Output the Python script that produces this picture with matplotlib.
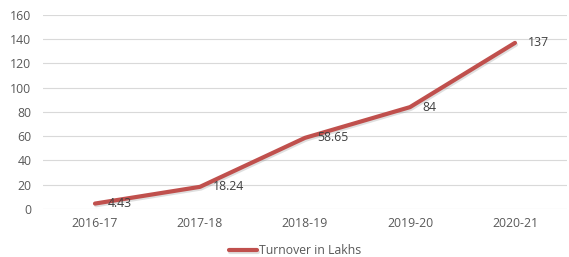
import matplotlib
matplotlib.use('Agg')
import matplotlib.pyplot as plt
import matplotlib.patheffects as pe

# 数据
years = ['2016-17', '2017-18', '2018-19', '2019-20', '2020-21']
turnover = [4.43, 18.24, 58.65, 84, 137]
value_labels = ['4.43', '18.24', '58.65', '84', '137']
y_ticks = [0, 20, 40, 60, 80, 100, 120, 140, 160]

plt.rcParams['font.family'] = ['Open Sans', 'DejaVu Sans']
text_color = '#595959'
line_color = '#C0504D'

fig = plt.figure(figsize=(5.69, 2.57), dpi=100)
ax = fig.add_axes([0.0747, 0.187, 0.9226, 0.7546])

x = list(range(len(years)))
ax.plot(x, turnover, color=line_color, linewidth=3, solid_capstyle='round',
        label='Turnover in Lakhs',
        path_effects=[pe.SimpleLineShadow(offset=(0.8, -1.2), shadow_color='gray', alpha=0.25),
                      pe.Normal()])

for xi, yi, lab in zip(x, turnover, value_labels):
    ax.annotate(lab, (xi, yi), xytext=(9, 0), textcoords='offset points',
                ha='left', va='center', fontsize=8.8, color='#404040')

ax.set_xlim(-0.5, len(years) - 0.5)
ax.set_ylim(0, 160)
ax.set_yticks(y_ticks)
ax.set_xticks(x)
ax.set_xticklabels(years)
ax.tick_params(axis='both', length=0, labelsize=8.8, labelcolor=text_color)
ax.tick_params(axis='y', pad=8)
ax.tick_params(axis='x', pad=6)
ax.grid(axis='y', color='#D9D9D9', linewidth=0.8)
ax.set_axisbelow(True)
for s in ax.spines.values():
    s.set_visible(False)

fig.legend(loc='center', bbox_to_anchor=(295 / 569, 1 - 251 / 257), frameon=False,
           fontsize=8.8, labelcolor=text_color, handlelength=2.3, handletextpad=0.1)

fig.savefig('out.png', dpi=100)
plt.close(fig)
